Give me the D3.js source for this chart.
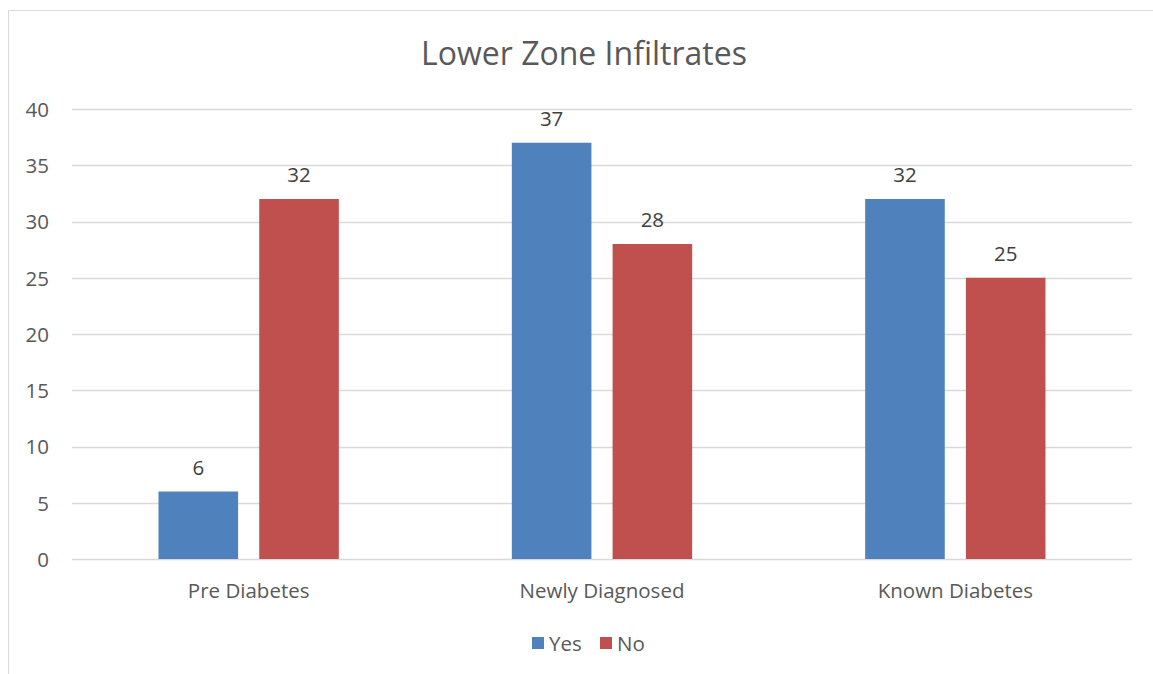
<!DOCTYPE html>
<html>
<head>
<meta charset="utf-8">
<script src="https://cdn.jsdelivr.net/npm/d3@7"></script>
<style>
  html, body { margin: 0; padding: 0; background: #fff; }
  svg { display: block; font-family: "Open Sans", sans-serif; }
</style>
</head>
<body>
<svg id="chart" width="1153" height="674"></svg>
<script>
// Lower zone infiltrates by diabetes status
const categories = ["Pre Diabetes", "Newly Diagnosed", "Known Diabetes"];
const seriesNames = ["Yes", "No"];
const yesValues = [6, 37, 32];
const noValues = [32, 28, 25];
const yTicks = [0, 5, 10, 15, 20, 25, 30, 35, 40];
const colors = { Yes: "#4F81BD", No: "#C0504D" };

const svg = d3.select("#chart");
const W = 1153, H = 674;
const plot = { left: 72, right: 1132, top: 109, bottom: 559 };
const textColor = "#595959";
const fontFamily = "'Open Sans', sans-serif";

// outer chart frame
svg.append("rect")
  .attr("x", 8.5).attr("y", 10.5)
  .attr("width", W + 10).attr("height", H + 10)
  .attr("fill", "#fff").attr("stroke", "#d9d9d9").attr("stroke-width", 1);

// title
svg.append("text")
  .attr("x", 584).attr("y", 65)
  .attr("text-anchor", "middle")
  .attr("font-size", 32).attr("fill", textColor)
  .text("Lower Zone Infiltrates");

const y = d3.scaleLinear().domain([0, 40]).range([plot.bottom, plot.top]);
const x0 = d3.scaleBand().domain(categories).range([plot.left, plot.right]).padding(0);
const x1 = d3.scaleBand().domain(seriesNames)
  .range([86.5, x0.bandwidth() - 86.5]).paddingInner(0.21).paddingOuter(0);

// gridlines
svg.append("g").selectAll("line").data(yTicks).join("line")
  .attr("x1", plot.left).attr("x2", plot.right)
  .attr("y1", d => Math.round(y(d)) + 0.5).attr("y2", d => Math.round(y(d)) + 0.5)
  .attr("stroke", "#d9d9d9").attr("stroke-width", 1.5);

// y axis labels
const yAxis = d3.axisLeft(y).tickValues(yTicks).tickSize(0).tickPadding(0);
const gy = svg.append("g").attr("transform", `translate(${plot.left - 23},0)`).call(yAxis);
gy.select(".domain").remove();
gy.selectAll("text").attr("font-size", 20.5).attr("fill", textColor)
  .attr("font-family", fontFamily).attr("dy", "0.36em");

// x axis labels
const xAxis = d3.axisBottom(x0).tickSize(0).tickPadding(0);
const gx = svg.append("g").attr("transform", `translate(0,${plot.bottom + 39})`).call(xAxis);
gx.select(".domain").remove();
gx.selectAll("text").attr("font-size", 20.5).attr("fill", textColor)
  .attr("font-family", fontFamily).attr("dy", 0);

// bars
const rows = categories.map((c, i) => ({
  category: c,
  values: [{ key: "Yes", value: yesValues[i] }, { key: "No", value: noValues[i] }]
}));

const groups = svg.append("g").selectAll("g").data(rows).join("g")
  .attr("transform", d => `translate(${x0(d.category)},0)`);

groups.selectAll("rect").data(d => d.values).join("rect")
  .attr("x", d => x1(d.key))
  .attr("y", d => y(d.value))
  .attr("width", x1.bandwidth())
  .attr("height", d => y(0) - y(d.value))
  .attr("fill", d => colors[d.key]);

groups.selectAll("text.value").data(d => d.values).join("text")
  .attr("class", "value")
  .attr("x", d => x1(d.key) + x1.bandwidth() / 2)
  .attr("y", d => y(d.value) - 17)
  .attr("text-anchor", "middle")
  .attr("font-size", 20.5).attr("fill", "#404040")
  .text(d => d.value);

// legend
const legendItems = [
  { key: "Yes", x: 532 },
  { key: "No", x: 600 }
];
const lg = svg.append("g");
lg.selectAll("rect").data(legendItems).join("rect")
  .attr("x", d => d.x).attr("y", 637)
  .attr("width", 12).attr("height", 12)
  .attr("fill", d => colors[d.key]);
lg.selectAll("text").data(legendItems).join("text")
  .attr("x", d => d.x + 17).attr("y", 651)
  .attr("font-size", 20.5).attr("fill", textColor)
  .text(d => d.key);
</script>
</body>
</html>
